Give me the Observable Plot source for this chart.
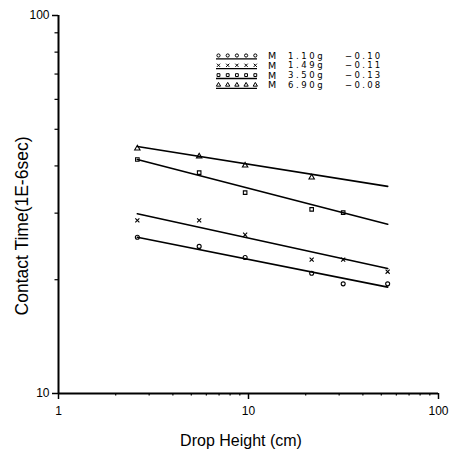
<!DOCTYPE html>
<html><head><meta charset="utf-8">
<script src="https://cdn.jsdelivr.net/npm/d3@7"></script>
<script src="https://cdn.jsdelivr.net/npm/@observablehq/plot@0.6"></script>
<style>body{margin:0;background:#fff} svg{display:block}</style>
</head><body><div id="chart"></div>
<script>
// ---- data ----
const series = ["1.10g", "1.49g", "3.50g", "6.90g"];
const exponents = [-0.10, -0.11, -0.13, -0.08];      // legend slopes
const amplitudes = [28.5, 33.2, 47.1, 48.6];          // fit prefactors
const fitRange = [2.6, 54];                           // drop height span of fit lines
const symbols = ["circle", "times", "square", "triangle"];

const heights110 = [2.6, 5.5, 9.6, 21.5, 31.5, 54];
const times110   = [25.9, 24.5, 22.9, 20.8, 19.5, 19.5];
const heights149 = [2.6, 5.5, 9.6, 21.5, 31.5, 54];
const times149   = [28.7, 28.7, 26.3, 22.6, 22.6, 21.0];
const heights350 = [2.6, 5.5, 9.6, 21.5, 31.5];
const times350   = [41.6, 38.4, 34.0, 30.7, 30.1];
const heights690 = [2.6, 5.5, 9.6, 21.5];
const times690   = [44.5, 42.4, 40.1, 37.3];

const xTicks = [1, 10, 100];
const yTicks = [10, 100];
const xMinor = [2,3,4,5,6,7,8,9,20,30,40,50,60,70,80,90];
const yMinor = [20,30,40,50,60,70,80,90];

const xTitle = "Drop Height (cm)";
const yTitle = "Contact Time(1E-6sec)";

// ---- tables ----
const heightSets = [heights110, heights149, heights350, heights690];
const timeSets = [times110, times149, times350, times690];
const points = [];
series.forEach((s, i) => heightSets[i].forEach((h, j) => points.push({series: s, h, t: timeSets[i][j]})));
const fits = [];
series.forEach((s, i) => fitRange.forEach(h => fits.push({series: s, h, t: amplitudes[i] * Math.pow(h, exponents[i])})));

const font = "'Liberation Sans', Arial, sans-serif";

const chart = Plot.plot({
  width: 455, height: 451,
  marginLeft: 58, marginRight: 17, marginTop: 15, marginBottom: 58,
  x: {type: "log", domain: [1, 100]},
  y: {type: "log", domain: [10, 100]},
  symbol: {domain: series, range: symbols},
  style: {fontFamily: font, color: "#000", background: "#fff"},
  marks: [
    Plot.axisX(xTicks, {tickSize: 6, tickPadding: 7, fontSize: 12, label: null, tickFormat: d => String(d), strokeWidth: 1.5}),
    Plot.axisX(xMinor, {tickSize: 2.5, label: null, tickFormat: () => "", strokeWidth: 1.2}),
    Plot.axisY(yTicks, {tickSize: 6, tickPadding: 3, fontSize: 12, label: null, tickFormat: d => String(d), strokeWidth: 1.5}),
    Plot.axisY(yMinor, {tickSize: 3.5, label: null, tickFormat: () => "", strokeWidth: 1.2}),
    Plot.ruleX([1], {stroke: "black", strokeWidth: 2}),
    Plot.ruleY([10], {stroke: "black", strokeWidth: 2}),
    Plot.line(fits, {x: "h", y: "t", z: "series", stroke: "black", strokeWidth: 1.7}),
    Plot.dot(points, {x: "h", y: "t", symbol: "series", r: 2, stroke: "black", strokeWidth: 1.1, fill: "none"})
  ]
});
document.getElementById("chart").append(chart);

// ---- titles and legend ----
const svg = d3.select(chart);
svg.append("text").text(xTitle)
  .attr("x", 241).attr("y", 446).attr("text-anchor", "middle")
  .attr("font-family", font).attr("font-size", 16).attr("fill", "black");
svg.append("text").text(yTitle)
  .attr("transform", "translate(28,226) rotate(-90)").attr("text-anchor", "middle")
  .attr("font-family", font).attr("font-size", 17.5).attr("fill", "black");

const symMap = {circle: d3.symbolCircle, times: d3.symbolTimes, square: d3.symbolSquare, triangle: d3.symbolTriangle};
const lg = svg.append("g").attr("font-family", "'DejaVu Sans', sans-serif").attr("font-size", 8.5)
  .attr("fill", "black").attr("text-anchor", "start");
series.forEach((s, i) => {
  const cy = 55.5 + i * 9.8;
  lg.append("line").attr("x1", 216).attr("x2", 257).attr("y1", cy + 3.4).attr("y2", cy + 3.4)
    .attr("stroke", "black").attr("stroke-width", 1.3);
  for (let k = 0; k < 5; k++) {
    lg.append("path").attr("d", d3.symbol(symMap[symbols[i]], 8)())
      .attr("transform", `translate(${218.5 + k * 9.2},${cy})`)
      .attr("fill", "none").attr("stroke", "black").attr("stroke-width", 1);
  }
  lg.append("text").text("M").attr("x", 268).attr("y", cy).attr("dy", "0.36em").attr("font-size", 9.5);
  lg.append("text").text(s).attr("x", 288).attr("y", cy).attr("dy", "0.36em").attr("letter-spacing", 2.6);
  lg.append("text").text("\u2212" + Math.abs(exponents[i]).toFixed(2)).attr("x", 345).attr("y", cy).attr("dy", "0.36em").attr("letter-spacing", 2.3);
});
</script>
</body></html>
